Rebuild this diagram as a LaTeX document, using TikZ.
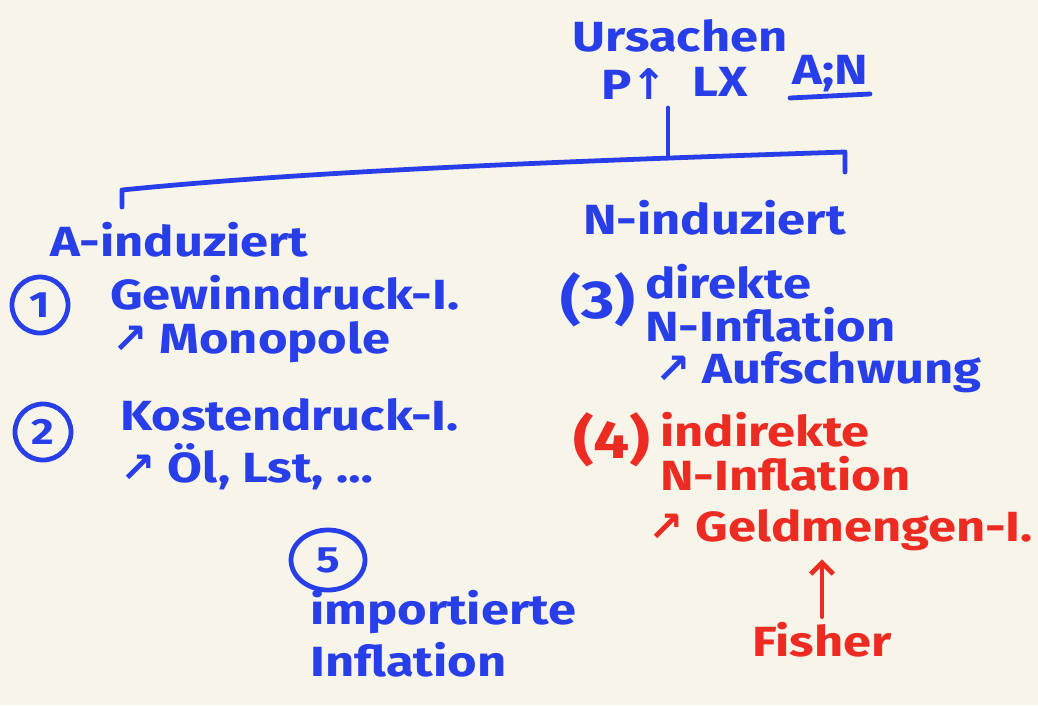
\documentclass[tikz,border=0pt]{standalone}
\usepackage{fontspec}
\setmainfont{Fira Sans}[FakeStretch=1.2]
\newfontfamily\arrowfont{DejaVu Sans}
\usetikzlibrary{shapes.geometric, arrows.meta}
\definecolor{inkblue}{RGB}{40,62,232}
\definecolor{inkred}{RGB}{236,44,34}
\definecolor{paper}{RGB}{247,244,234}
\newcommand{\nearr}{{\arrowfont\symbol{"2197}}}
\newcommand{\uparr}{{\arrowfont\symbol{"2191}}}

\begin{document}
\begin{tikzpicture}[x=0.025cm, y=-0.025cm,
    ink/.style={inkblue, line width=3.4pt, line cap=round, line join=round},
    hand/.style={inkblue, font=\fontsize{30}{32}\selectfont\bfseries, inner sep=0pt, anchor=west},
    numring/.style={draw=inkblue, circle, line width=3.4pt, minimum size=1.4cm, inner sep=0pt, text=inkblue, font=\fontsize{26}{28}\selectfont\bfseries},
    paren/.style={hand, anchor=center, font=\fontsize{38}{40}\selectfont\bfseries},
    redhand/.style={hand, inkred}]
    \fill[paper] (0,0) rectangle (1038,705);
    \useasboundingbox (0,0) rectangle (1038,705);

    % heading
    \node[hand, anchor=center] (ursachen) at (680,36) {Ursachen};
    \node[hand, anchor=center] (preis) at (634,84) {P\uparr};
    \node[hand, anchor=center] (lx) at (720,82) {LX};
    \node[hand, anchor=center] (an) at (830,74) {A;N};
    \draw[ink] (790,98) -- (870,94);

    % bracket
    \coordinate (stem) at (668,108);
    \coordinate (split) at (668,158);
    \draw[ink] (stem) -- (split);
    \draw[ink] (122,207) -- (122,190) .. controls (320,170) and (600,160) .. (845,152) -- (845,172);

    % A-induziert
    \node[hand] (aind) at (50,240) {A-induziert};
    \node[numring] (c1) at (40,305) {1};
    \node[hand] (gewinn) at (110,293) {Gewinndruck-I.};
    \node[hand] (mono) at (112,342) {\nearr\ Monopole};
    \node[numring] (c2) at (43,432) {2};
    \node[hand] (kosten) at (120,415) {Kostendruck-I.};
    \node[hand] (oel) at (120,467) {\nearr\ Öl, Lst, \dots};

    % N-induziert
    \node[hand] (nind) at (583,218) {N-induziert};
    \node[paren] (n3) at (598,300) {(3)};
    \node[hand] (direkt) at (645,282) {direkte};
    \node[hand] (ninf) at (645,325) {N-Inflation};
    \node[hand] (auf) at (655,372) {\nearr\ Aufschwung};
    \node[paren, inkred] (n4) at (612,440) {(4)};
    \node[redhand] (indirekt) at (660,430) {indirekte};
    \node[redhand] (ninfr) at (660,474) {N-Inflation};
    \node[redhand] (geld) at (648,530) {\nearr\ Geldmengen-I.};
    \node[redhand, anchor=center] (fisher) at (822,640) {Fisher};
    \draw[ink, inkred, -{Straight Barb[length=8pt,width=16pt]}, shorten <=4pt, shorten >=6pt]
        (fisher.north) -- (geld.south -| fisher.north);

    % importiert
    \node[numring, ellipse, minimum width=1.85cm, minimum height=1.5cm] (c5) at (328,560) {5};
    \node[hand] (imp) at (310,612) {importierte};
    \node[hand] (infl) at (310,660) {Inflation};
\end{tikzpicture}
\end{document}
